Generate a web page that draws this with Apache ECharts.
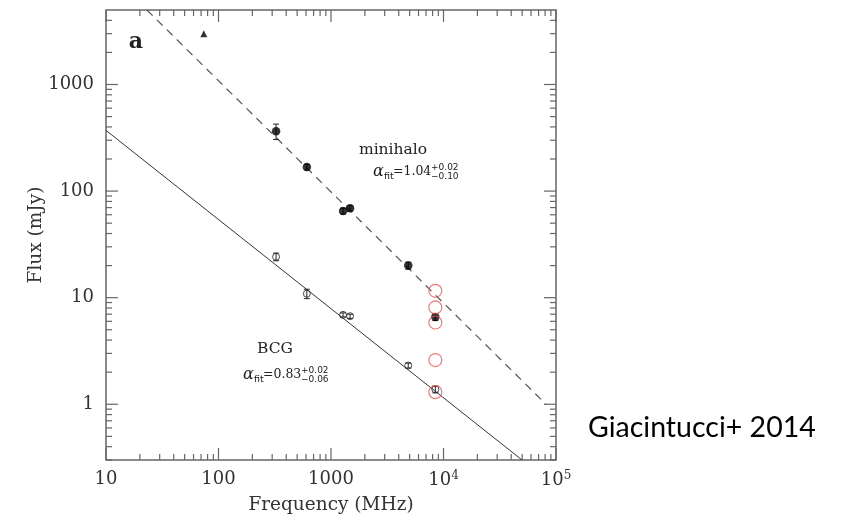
<!DOCTYPE html>
<html>
<head>
<meta charset="utf-8">
<script src="https://cdn.jsdelivr.net/npm/echarts@6/dist/echarts.min.js"></script>
<style>
  html, body { margin: 0; padding: 0; background: #fff; }
  #chart { width: 848px; height: 515px; }
</style>
</head>
<body>
<div id="chart"></div>
<script>
// Radio spectrum of the minihalo and the BCG (flux density vs frequency)

// Minihalo detections (MHz, mJy, 1-sigma error)
const freqMinihalo = [325, 610, 1280, 1477, 4860, 8460];
const fluxMinihalo = [365, 168, 65, 69, 20, 6.6];
const errMinihalo  = [60, 10, 4, 4, 1.5, 0.5];

// Minihalo low-frequency upper limit (triangle)
const freqLimit = [74];
const fluxLimit = [3000];

// BCG detections
const freqBCG = [325, 610, 1280, 1477, 4860, 8460];
const fluxBCG = [24.2, 10.9, 6.9, 6.7, 2.31, 1.38];
const errBCG  = [2.0, 1.1, 0.3, 0.3, 0.12, 0.1];

// Additional 8.46 GHz measurements (red open circles)
const freqExtra = [8460, 8460, 8460, 8460, 8460];
const fluxExtra = [11.6, 8.1, 5.85, 2.6, 1.3];

// Power-law fits, drawn between their end points
const fitMinihalo = [[23.1, 5000], [81500, 1.0]];
const fitBCG      = [[10, 371], [49900, 0.3]];

// Axis ranges and tick values
const X_MIN = 10, X_MAX = 1e5;
const Y_MIN = 0.3, Y_MAX = 5000;
const xMajor = [10, 100, 1000, 1e4, 1e5];
const yMajor = [1, 10, 100, 1000];
const minorSteps = [2, 3, 4, 5, 6, 7, 8, 9];

const SERIF = "'DejaVu Serif', serif";
const SANS = "'DejaVu Sans', sans-serif";
const FRAME = '#666';

function minorTicks(lo, hi) {
  const out = [];
  for (let d = Math.floor(Math.log10(lo)); d <= Math.ceil(Math.log10(hi)); d++) {
    const base = Math.pow(10, d);
    minorSteps.forEach(m => {
      const v = m * base;
      if (v > lo && v < hi) out.push(v);
    });
  }
  return out;
}
const xMinor = minorTicks(X_MIN, X_MAX);
const yMinor = minorTicks(Y_MIN, Y_MAX);

function toErrorData(xs, ys, es) {
  return xs.map((x, i) => [x, ys[i] - es[i], ys[i] + es[i]]);
}
function toPoints(xs, ys) {
  return xs.map((x, i) => [x, ys[i]]);
}

// vertical error bars with short caps
function renderErrorBar(params, api) {
  const x = api.value(0);
  const lo = api.coord([x, api.value(1)]);
  const hi = api.coord([x, api.value(2)]);
  const cap = 3;
  const style = { stroke: '#222', lineWidth: 1 };
  return {
    type: 'group',
    children: [
      { type: 'line', shape: { x1: lo[0], y1: lo[1], x2: hi[0], y2: hi[1] }, style },
      { type: 'line', shape: { x1: lo[0] - cap, y1: lo[1], x2: lo[0] + cap, y2: lo[1] }, style },
      { type: 'line', shape: { x1: hi[0] - cap, y1: hi[1], x2: hi[0] + cap, y2: hi[1] }, style }
    ]
  };
}

// inward ticks on all four sides of the frame
function renderTicks(params, api) {
  const children = [];
  const style = { stroke: FRAME, lineWidth: 1.2 };
  const addX = (v, len) => {
    const b = api.coord([v, Y_MIN]);
    const t = api.coord([v, Y_MAX]);
    children.push({ type: 'line', shape: { x1: b[0], y1: b[1], x2: b[0], y2: b[1] - len }, style });
    children.push({ type: 'line', shape: { x1: t[0], y1: t[1], x2: t[0], y2: t[1] + len }, style });
  };
  const addY = (v, len) => {
    const l = api.coord([X_MIN, v]);
    const r = api.coord([X_MAX, v]);
    children.push({ type: 'line', shape: { x1: l[0], y1: l[1], x2: l[0] + len, y2: l[1] }, style });
    children.push({ type: 'line', shape: { x1: r[0], y1: r[1], x2: r[0] - len, y2: r[1] }, style });
  };
  xMajor.forEach(v => addX(v, 12));
  xMinor.forEach(v => addX(v, 6));
  yMajor.forEach(v => addY(v, 12));
  yMinor.forEach(v => addY(v, 6));
  return { type: 'group', children };
}

// alpha_fit annotation: α, subscript "fit", value and asymmetric errors
function alphaLabel(x, y, value, plus, minus) {
  const base = { fill: '#222', fontFamily: SERIF, textVerticalAlign: 'middle' };
  return {
    type: 'group', x, y,
    children: [
      { type: 'text', x: 0, y: 0, style: Object.assign({}, base, { text: 'α', fontSize: 16, fontStyle: 'italic' }) },
      { type: 'text', x: 11, y: 5, style: Object.assign({}, base, { text: 'fit', fontSize: 9.5, fontFamily: SANS }) },
      { type: 'text', x: 20, y: 0, style: Object.assign({}, base, { text: '=' + value, fontSize: 12.5 }) },
      { type: 'text', x: 58, y: -4, style: Object.assign({}, base, { text: plus, fontSize: 9, fontFamily: SANS }) },
      { type: 'text', x: 58, y: 5, style: Object.assign({}, base, { text: minus, fontSize: 9, fontFamily: SANS }) }
    ]
  };
}

const chart = echarts.init(document.getElementById('chart'), null, { renderer: 'canvas' });

chart.setOption({
  backgroundColor: '#fff',
  animation: false,
  grid: {
    left: 106, top: 10, width: 450, height: 450,
    containLabel: false, outerBoundsMode: 'none',
    show: true, borderColor: FRAME, borderWidth: 1.5, backgroundColor: 'transparent'
  },
  xAxis: {
    type: 'log', logBase: 10, min: X_MIN, max: X_MAX,
    name: 'Frequency (MHz)', nameLocation: 'middle', nameGap: 36,
    nameMoveOverlap: false,
    nameTextStyle: { fontFamily: SERIF, fontSize: 18.5, color: '#333' },
    axisLine: { show: false },
    axisTick: { show: false },
    splitLine: { show: false },
    axisLabel: {
      margin: 10, color: '#333', fontFamily: SERIF, fontSize: 18,
      formatter: v => {
        const p = Math.round(Math.log10(v));
        return p <= 3 ? String(Math.pow(10, p)) : '10{sup|' + p + '}';
      },
      rich: { sup: { fontSize: 12, verticalAlign: 'top', padding: [0, 0, 8, 0], fontFamily: SERIF, color: '#333' } }
    }
  },
  yAxis: {
    type: 'log', logBase: 10, min: Y_MIN, max: Y_MAX,
    name: 'Flux (mJy)', nameLocation: 'middle', nameGap: 60,
    nameMoveOverlap: false,
    nameTextStyle: { fontFamily: SERIF, fontSize: 18.5, color: '#333' },
    axisLine: { show: false },
    axisTick: { show: false },
    splitLine: { show: false },
    axisLabel: {
      margin: 12, color: '#333', fontFamily: SERIF, fontSize: 18,
      showMinLabel: false, showMaxLabel: false,
      formatter: v => {
        const p = Math.log10(v);
        return Math.abs(p - Math.round(p)) < 1e-6 ? String(Math.round(v)) : '';
      }
    }
  },
  series: [
    {
      name: 'ticks', type: 'custom', renderItem: renderTicks,
      data: [[X_MIN, Y_MIN]], silent: true, z: 1
    },
    {
      name: 'minihalo fit', type: 'line', data: fitMinihalo, symbol: 'none',
      lineStyle: { color: '#555', width: 1.2, type: [8, 6] }, z: 2
    },
    {
      name: 'BCG fit', type: 'line', data: fitBCG, symbol: 'none',
      lineStyle: { color: '#333', width: 1 }, z: 2
    },
    {
      name: 'minihalo errors', type: 'custom', renderItem: renderErrorBar,
      data: toErrorData(freqMinihalo, fluxMinihalo, errMinihalo), z: 3
    },
    {
      name: 'BCG errors', type: 'custom', renderItem: renderErrorBar,
      data: toErrorData(freqBCG, fluxBCG, errBCG), z: 3
    },
    {
      name: 'minihalo', type: 'scatter', data: toPoints(freqMinihalo, fluxMinihalo),
      symbol: 'circle', symbolSize: 8.5, itemStyle: { color: '#000' }, z: 4
    },
    {
      name: 'limit', type: 'scatter', data: toPoints(freqLimit, fluxLimit),
      symbol: 'triangle', symbolSize: 7, itemStyle: { color: '#000' }, z: 4
    },
    {
      name: 'BCG', type: 'scatter', data: toPoints(freqBCG, fluxBCG),
      symbol: 'circle', symbolSize: 7,
      itemStyle: { color: 'rgba(0,0,0,0)', borderColor: '#222', borderWidth: 1 }, z: 4
    },
    {
      name: '8.46 GHz', type: 'scatter', data: toPoints(freqExtra, fluxExtra),
      symbol: 'circle', symbolSize: 13,
      itemStyle: { color: 'rgba(0,0,0,0)', borderColor: '#e05c5c', borderWidth: 1.2 }, z: 5
    }
  ],
  graphic: [
    { type: 'text', x: 136, y: 42, style: { text: 'a', fontFamily: SERIF, fontSize: 22, fontWeight: 'bold', fill: '#222', textAlign: 'center', textVerticalAlign: 'middle' } },
    { type: 'text', x: 393, y: 150, style: { text: 'minihalo', fontFamily: SERIF, fontSize: 15.5, fill: '#222', textAlign: 'center', textVerticalAlign: 'middle' } },
    alphaLabel(373, 172, '1.04', '+0.02', '−0.10'),
    { type: 'text', x: 275, y: 349, style: { text: 'BCG', fontFamily: SERIF, fontSize: 15.5, fill: '#222', textAlign: 'center', textVerticalAlign: 'middle' } },
    alphaLabel(243, 375, '0.83', '+0.02', '−0.06'),
    { type: 'text', x: 588, y: 428, style: { text: 'Giacintucci+ 2014', fontFamily: "Lato, sans-serif", fontSize: 28.5, fill: '#000', textAlign: 'left', textVerticalAlign: 'middle' } }
  ]
});
</script>
</body>
</html>
